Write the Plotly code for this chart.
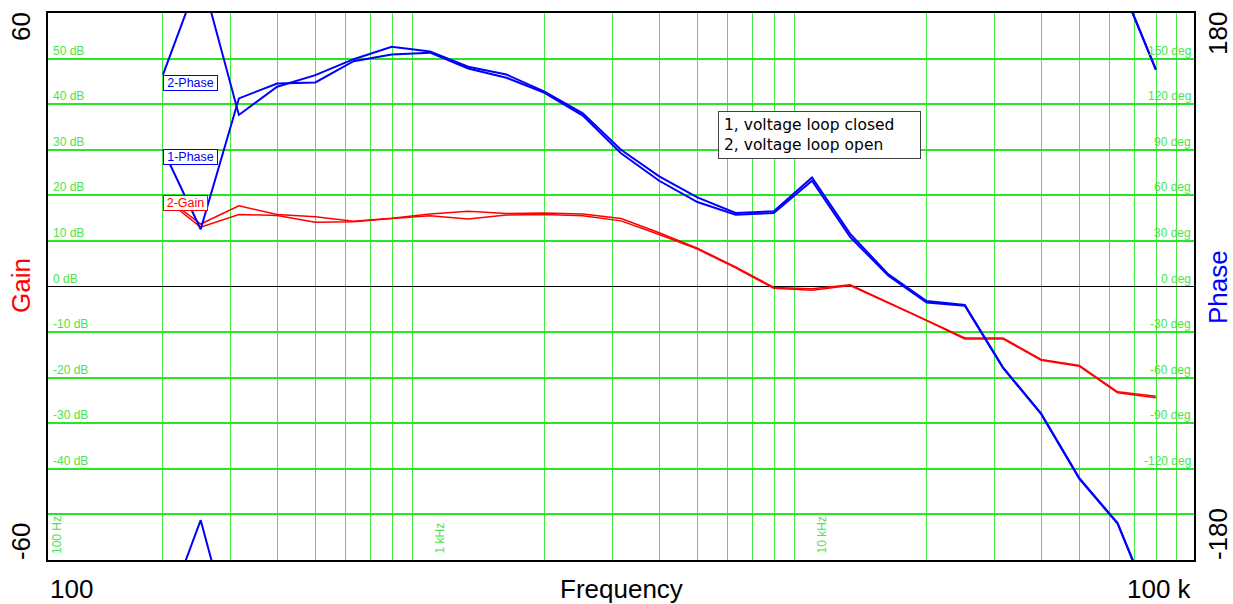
import numpy as np
import plotly.graph_objects as go

# ---- measured sweep: 10 points per decade ----
freq_hz = [200, 251, 316, 398, 501, 631, 794, 1000, 1259, 1585, 1995, 2512, 3162,
           3981, 5012, 6310, 7943, 10000, 12589, 15849, 19953, 25119, 31623,
           39811, 50119, 63096, 79433]

# 1 = voltage loop closed, 2 = voltage loop open
gain1_db = [19.6, 13.0, 15.8, 15.6, 14.1, 14.2, 14.9, 15.5, 14.8, 15.7, 15.8, 15.5,
            14.4, 11.4, 8.2, 4.1, -0.4, -0.8, 0.2, -3.6, -7.5, -11.5, -11.5,
            -16.2, -17.5, -23.3, -24.4]
gain2_db = [20.0, 13.7, 17.7, 15.8, 15.3, 14.3, 15.0, 15.9, 16.5, 16.0, 16.1, 15.9,
            14.9, 11.8, 8.4, 4.3, -0.2, -0.5, 0.4, -3.5, -7.3, -11.3, -11.3,
            -16.0, -17.3, -23.1, -24.1]
phase1_deg = [90.2, 37.7, 123.8, 133.6, 134.3, 148.3, 152.7, 153.9, 143.5, 137.4,
              127.5, 112.5, 87.7, 69.6, 55.6, 47.3, 48.4, 69.6, 32.5, 7.1, -10.5,
              -12.6, -53.6, -84.0, -126.6, -156.1, -217.4]
phase2_deg = [139.5, 206.2, 112.9, 131.5, 139.1, 149.6, 157.7, 154.6, 144.6, 139.5,
              128.2, 114.0, 90.0, 72.5, 58.7, 48.4, 49.5, 71.8, 34.6, 8.0, -9.6,
              -12.1, -53.2, -83.6, -126.2, -155.7, -217.0]

# ---- axes / grid ----
x_range_hz = [100, 100000]
minor_grid_hz = [200, 300, 400, 500, 600, 700, 800, 900,
                 2000, 3000, 4000, 5000, 6000, 7000, 8000, 9000,
                 20000, 30000, 40000, 50000, 60000, 70000, 80000, 90000]
decade_grid_hz = [1000, 10000]
decade_labels = ["100 Hz", "1 kHz", "10 kHz"]
decade_label_hz = [100, 1000, 10000]
gain_grid_db = [-50, -40, -30, -20, -10, 10, 20, 30, 40, 50]
gain_labels_db = [50, 40, 30, 20, 10, 0, -10, -20, -30, -40]
phase_labels_deg = [150, 120, 90, 60, 30, 0, -30, -60, -90, -120]

W, H = 1233, 604
ML, MR, MT, MB = 48, 39, 11, 44
PW, PH = W - ML - MR, H - MT - MB

GRID = "#26e626"
LABEL_GREEN = "#4ae44a"
RED = "#ff0000"
BLUE = "#0000ff"
FONT = "Arial, Liberation Sans, sans-serif"


def px_to_paper(px, py):
    return (px - ML) / PW, (H - MB - py) / PH


fig = go.Figure()

lx = np.log10(freq_hz)  # for annotation placement on the log axis

# gain traces
fig.add_trace(go.Scatter(x=freq_hz, y=gain1_db, mode="lines", name="1-Gain",
                         line=dict(color=RED, width=1.5), yaxis="y"))
fig.add_trace(go.Scatter(x=freq_hz, y=gain2_db, mode="lines", name="2-Gain",
                         line=dict(color=RED, width=1.5), yaxis="y"))

# phase traces, drawn with +/-360 copies so the wrap at +/-180 shows
for name, ph in (("1-Phase", phase1_deg), ("2-Phase", phase2_deg)):
    ph = np.asarray(ph)
    for shift in (0, 360, -360):
        fig.add_trace(go.Scatter(x=freq_hz, y=ph + shift, mode="lines", name=name,
                                 line=dict(color=BLUE, width=2), yaxis="y2"))

shapes = []
for f in decade_grid_hz:
    shapes.append(dict(type="line", xref="x", yref="paper", x0=np.log10(f), x1=np.log10(f),
                       y0=0, y1=1, line=dict(color="#1ee81e", width=3), layer="between"))

annotations = []
# gain scale labels inside the plot, left side
for v in gain_labels_db:
    annotations.append(dict(text=f"{v} dB", xref="paper", yref="y", x=4 / PW, y=v,
                            xanchor="left", yanchor="bottom", showarrow=False, borderpad=0,
                            font=dict(family=FONT, size=12, color=LABEL_GREEN)))
# phase scale labels inside the plot, right side, on a white patch
for v in phase_labels_deg:
    txt = f"{v} deg"
    wpx = len(txt) * 6.4 + 3
    shapes.append(dict(type="rect", xref="paper", yref="y2", xsizemode="pixel",
                       ysizemode="pixel", xanchor=1, yanchor=v, x0=-wpx - 1, x1=-1,
                       y0=0.5, y1=15, fillcolor="white", line=dict(width=0),
                       layer="between"))
    annotations.append(dict(text=txt, xref="paper", yref="y2", x=1, y=v, xshift=-2,
                            xanchor="right", yanchor="bottom", showarrow=False, borderpad=0,
                            font=dict(family=FONT, size=12, color=LABEL_GREEN)))
# decade labels, vertical, at the bottom
for f, t in zip(decade_label_hz, decade_labels):
    annotations.append(dict(text=t, xref="x", yref="paper", x=np.log10(f), y=0,
                            xshift=9, yshift=5, textangle=-90, xanchor="center",
                            yanchor="bottom", showarrow=False, borderpad=0,
                            font=dict(family=FONT, size=12, color=LABEL_GREEN)))

# trace name tags at the start of each curve
tags = [("2-Phase", phase2_deg[0], "y2", BLUE, 51),
        ("1-Phase", phase1_deg[0], "y2", BLUE, 51),
        ("2-Gain", gain2_db[0], "y", RED, 41)]
for txt, yv, yr, col, wd in tags:
    annotations.append(dict(text=txt, xref="x", yref=yr, x=lx[0], y=yv,
                            xanchor="left", yanchor="top", showarrow=False,
                            width=wd, height=12, borderpad=1, borderwidth=1,
                            bordercolor=col, bgcolor="white",
                            font=dict(family=FONT, size=12.5, color=col)))

# legend box
lgx, lgy = px_to_paper(718, 109)
annotations.append(dict(text="1, voltage loop closed<br>2, voltage loop open",
                        xref="paper", yref="paper", x=lgx, y=lgy, xanchor="left",
                        yanchor="top", align="left", showarrow=False, width=191,
                        height=36, borderpad=5, borderwidth=1, bordercolor="#404040",
                        bgcolor="white", font=dict(family="DejaVu Sans", size=15.5,
                                                   color="black")))

# outer axis captions
big = 26
outer = [("60", 21, 25, "black", -90), ("-60", 21, 541, "black", -90),
         ("Gain", 21, 285, RED, -90), ("180", 1218, 32, "black", -90),
         ("-180", 1218, 534, "black", -90), ("Phase", 1218, 286, BLUE, -90)]
for txt, px, py, col, ang in outer:
    ax_, ay_ = px_to_paper(px, py)
    annotations.append(dict(text=txt, xref="paper", yref="paper", x=ax_, y=ay_,
                            xanchor="center", yanchor="middle", textangle=ang,
                            showarrow=False, borderpad=0,
                            font=dict(family=FONT, size=big, color=col)))
for txt, px, anchor in (("100", 49, "left"), ("Frequency", 621, "center"),
                        ("100 k", 1193, "right")):
    ax_, ay_ = px_to_paper(px, 589)
    annotations.append(dict(text=txt, xref="paper", yref="paper", x=ax_, y=ay_,
                            xanchor=anchor, yanchor="middle", showarrow=False,
                            borderpad=0, font=dict(family=FONT, size=big, color="black")))

fig.update_layout(
    width=W, height=H, autosize=False,
    margin=dict(l=ML, r=MR, t=MT, b=MB, pad=0),
    paper_bgcolor="white", plot_bgcolor="white",
    showlegend=False, hovermode=False,
    xaxis=dict(type="log", range=np.log10(x_range_hz).tolist(), tickvals=minor_grid_hz,
               showticklabels=False, ticks="", showgrid=True, gridcolor="#45e845",
               gridwidth=1.3, zeroline=False, showline=True, linecolor="black",
               linewidth=2, mirror=True),
    yaxis=dict(range=[-60, 60], tickvals=gain_grid_db, showticklabels=False, ticks="",
               showgrid=True, gridcolor=GRID, gridwidth=2, zeroline=True,
               zerolinecolor="black", zerolinewidth=1, showline=True,
               linecolor="black", linewidth=2, mirror=True),
    yaxis2=dict(range=[-180, 180], overlaying="y", side="right", showgrid=False,
                showticklabels=False, ticks="", zeroline=False, showline=False),
    shapes=shapes,
    annotations=annotations,
)

fig.write_html("out.html", config={"displayModeBar": False})
